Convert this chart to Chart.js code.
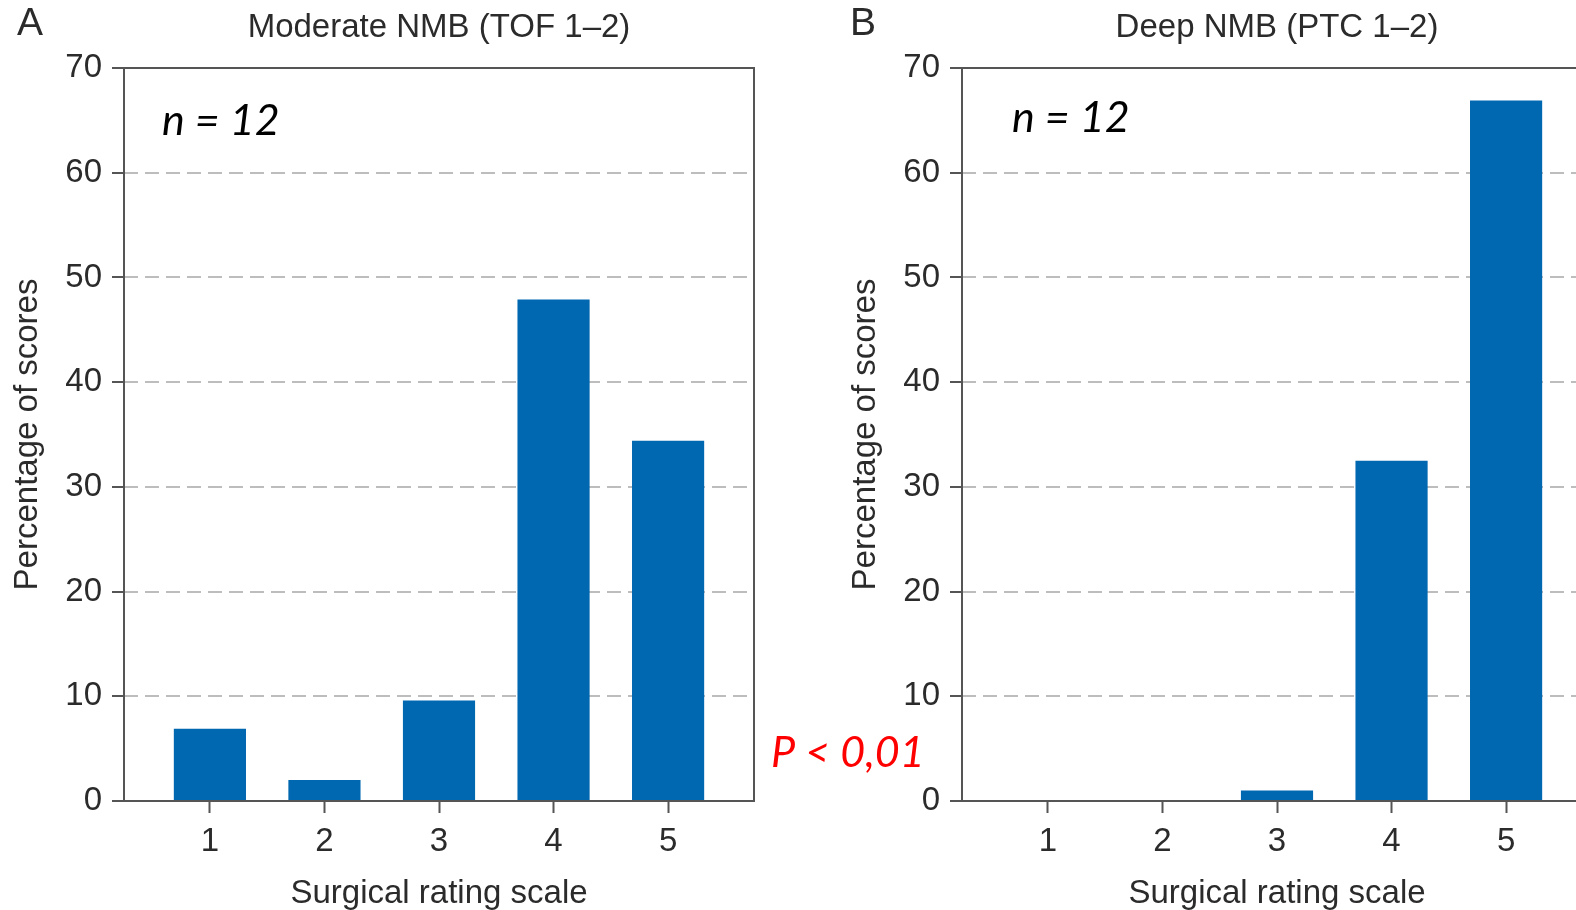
<!DOCTYPE html>
<html><head><meta charset="utf-8">
<script src="https://cdn.jsdelivr.net/npm/chart.js@4.4.1/dist/chart.umd.min.js"></script>
<style>
html,body{margin:0;padding:0;background:#fff;overflow:hidden;width:1576px;height:910px;position:relative;}
#cA{position:absolute;left:0;top:0;}
#cB{position:absolute;left:838px;top:0;}
</style></head><body>
<canvas id="cA" width="950" height="910"></canvas>
<canvas id="cB" width="800" height="910"></canvas>
<script>
// ---- data ----
const categories = [1, 2, 3, 4, 5];
const xTickLabels = ['1', '2', '3', '4', '5'];
const yTicks = [0, 10, 20, 30, 40, 50, 60, 70];
const valuesModerate = [6.9, 2.0, 9.6, 47.9, 34.4];
const valuesDeep = [0, 0, 1.0, 32.5, 66.9];
const titleModerate = 'Moderate NMB (TOF 1–2)';
const titleDeep = 'Deep NMB (PTC 1–2)';
const letterModerate = 'A';
const letterDeep = 'B';
const sampleLabel = 'n = 12';
const pLabel = 'P < 0,01';
const xAxisTitle = 'Surgical rating scale';
const yAxisTitle = 'Percentage of scores';

const FONT = 'Liberation Sans';
const TXT = '#2b2b2b';
const BAR = '#0067B1';

const annot = {
  id: 'annot',
  afterDraw(chart, args, o) {
    const ctx = chart.ctx, a = chart.chartArea;
    ctx.save();
    ctx.strokeStyle = '#555555';
    ctx.lineWidth = 2;
    ctx.strokeRect(a.left, a.top, a.right - a.left, a.bottom - a.top);
    ctx.textBaseline = 'alphabetic';
    ctx.fillStyle = TXT;
    ctx.textAlign = 'center';
    ctx.font = '39px "' + FONT + '"';
    ctx.fillText(o.letter, o.letterX, 35);
    ctx.font = '33px "' + FONT + '"';
    ctx.fillText(o.title, (a.left + a.right) / 2, 37);
    ctx.textAlign = 'left';
    ctx.font = 'italic 43px Lato';
    ctx.fillStyle = '#000000';
    ctx.fillText(o.n, a.left + o.nDx, o.nY);
    if (o.p) {
      ctx.fillStyle = '#ff0000';
      ctx.fillText(o.p, o.pX, o.pY);
    }
    ctx.restore();
  }
};

function makePanel(id, values, padRight, ann) {
  return new Chart(document.getElementById(id), {
    type: 'bar',
    data: {
      datasets: [{
        data: categories.map((c, i) => ({ x: c, y: values[i] })),
        backgroundColor: BAR,
        borderWidth: 0,
        barPercentage: 0.63,
        categoryPercentage: 1
      }]
    },
    options: {
      responsive: false,
      animation: false,
      layout: { padding: { top: 68, right: padRight, left: 0, bottom: 0 } },
      plugins: { legend: { display: false }, tooltip: { enabled: false }, annot: ann },
      scales: {
        x: {
          type: 'linear', min: 0.25, max: 5.75, offset: false,
          afterBuildTicks: s => { s.ticks = categories.map(v => ({ value: v })); },
          afterFit: s => { s.height = 109; },
          grid: { offset: false, drawOnChartArea: false, drawTicks: true, tickLength: 12, tickColor: '#555555', tickWidth: 2 },
          border: { display: false },
          ticks: {
            font: { family: FONT, size: 33 }, color: TXT, padding: 9, maxRotation: 0, autoSkip: false,
            callback: v => xTickLabels[categories.indexOf(v)]
          },
          title: { display: true, text: xAxisTitle, font: { family: FONT, size: 33, lineHeight: 1.0 }, color: TXT, padding: { top: 0, bottom: 0 } }
        },
        y: {
          min: 0, max: 70,
          afterBuildTicks: s => { s.ticks = yTicks.map(v => ({ value: v })); },
          afterFit: s => { s.width = 124; },
          grid: {
            color: c => (c.tick && (c.tick.value === 0 || c.tick.value === 70)) ? 'rgba(0,0,0,0)' : '#bdbdbd',
            lineWidth: 2, tickLength: 12, tickColor: '#555555', tickWidth: 2, tickBorderDash: []
          },
          border: { display: false, dash: [14, 7] },
          ticks: { font: { family: FONT, size: 33 }, color: TXT, padding: 10 },
          title: { display: true, text: yAxisTitle, font: { family: FONT, size: 33 }, color: TXT, padding: { top: 8, bottom: 0 } }
        }
      }
    },
    plugins: [annot]
  });
}

makePanel('cA', valuesModerate, 196, {
  letter: letterModerate, letterX: 30, title: titleModerate,
  n: sampleLabel, nDx: 38, nY: 135, p: pLabel, pX: 771, pY: 767
});
makePanel('cB', valuesDeep, 46, {
  letter: letterDeep, letterX: 25, title: titleDeep,
  n: sampleLabel, nDx: 50, nY: 132, p: null
});
</script>
</body></html>
